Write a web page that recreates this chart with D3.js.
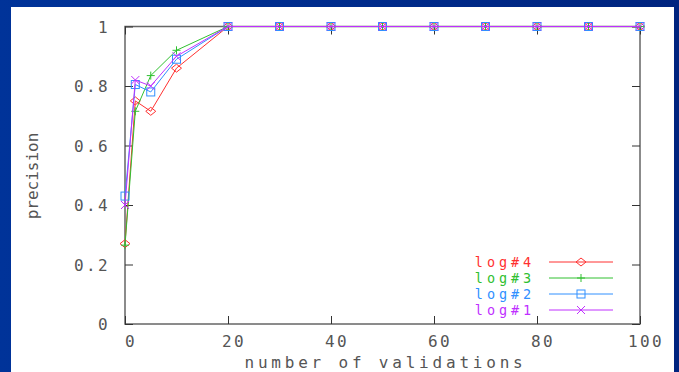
<!DOCTYPE html>
<html>
<head>
<meta charset="utf-8">
<script src="https://cdn.jsdelivr.net/npm/d3@7"></script>
<style>
  html, body { margin: 0; padding: 0; }
  body { width: 679px; height: 372px; overflow: hidden; }
  text { font-family: "DejaVu Sans Mono", monospace; fill: #555; }
</style>
</head>
<body>
<div id="chart"></div>
<script>
// data
const validations = [0, 2, 5, 10, 20, 30, 40, 50, 60, 70, 80, 90, 100];
const log4 = [0.27, 0.75, 0.715, 0.86, 1, 1, 1, 1, 1, 1, 1, 1, 1];
const log3 = [0.265, 0.715, 0.835, 0.92, 1, 1, 1, 1, 1, 1, 1, 1, 1];
const log2 = [0.43, 0.805, 0.78, 0.89, 1, 1, 1, 1, 1, 1, 1, 1, 1];
const log1 = [0.40, 0.82, 0.80, 0.90, 1, 1, 1, 1, 1, 1, 1, 1, 1];
const seriesNames = ["log#4", "log#3", "log#2", "log#1"];
const xTicks = [0, 20, 40, 60, 80, 100];
const yTicks = [0, 0.2, 0.4, 0.6, 0.8, 1];

const W = 679, H = 372;
const margin = { top: 26.5, right: 39, bottom: 48, left: 125 };

const series = [
  { name: seriesNames[0], values: log4, color: "#ff3030", marker: "diamond" },
  { name: seriesNames[1], values: log3, color: "#30c030", marker: "plus" },
  { name: seriesNames[2], values: log2, color: "#3090ff", marker: "square" },
  { name: seriesNames[3], values: log1, color: "#c030ff", marker: "cross" }
];

const svg = d3.select("#chart").append("svg")
  .attr("width", W)
  .attr("height", H);

// blue slide background + white panel
const grad = svg.append("defs").append("linearGradient")
  .attr("id", "bg").attr("x1", 0).attr("x2", 1).attr("y1", 0).attr("y2", 0);
grad.append("stop").attr("offset", "0%").attr("stop-color", "#003399");
grad.append("stop").attr("offset", "100%").attr("stop-color", "#00247f");
svg.append("rect").attr("width", W).attr("height", H).attr("fill", "url(#bg)");
svg.append("rect").attr("x", 11).attr("y", 7).attr("width", 663).attr("height", H - 7).attr("fill", "#fff");

const x = d3.scaleLinear().domain([0, 100]).range([margin.left, W - margin.right]);
const y = d3.scaleLinear().domain([0, 1]).range([H - margin.bottom, margin.top]);

const g = svg.append("g");

// frame
g.append("rect")
  .attr("x", x(0)).attr("y", y(1))
  .attr("width", x(100) - x(0)).attr("height", y(0) - y(1))
  .attr("fill", "none").attr("stroke", "#666").attr("stroke-width", 1.5);

// ticks, gnuplot style: inward and mirrored
const tickLen = 8;
g.append("g").call(d3.axisBottom(x).tickValues(xTicks).tickSize(-tickLen).tickFormat(""))
  .attr("transform", `translate(0,${y(0)})`);
g.append("g").call(d3.axisTop(x).tickValues(xTicks).tickSize(-tickLen).tickFormat(""))
  .attr("transform", `translate(0,${y(1)})`);
g.append("g").call(d3.axisLeft(y).tickValues(yTicks).tickSize(-tickLen).tickFormat(""))
  .attr("transform", `translate(${x(0)},0)`);
g.append("g").call(d3.axisRight(y).tickValues(yTicks).tickSize(-tickLen).tickFormat(""))
  .attr("transform", `translate(${x(100)},0)`);
g.selectAll(".domain").remove();
g.selectAll(".tick line").attr("stroke", "#333");

// tick labels
g.selectAll(".xlab").data(xTicks).enter().append("text")
  .attr("x", d => x(d) + 6)
  .attr("y", y(0) + 23)
  .attr("text-anchor", "middle")
  .style("font-size", "16px").style("letter-spacing", "2.4px")
  .text(d => d);

g.selectAll(".ylab").data(yTicks).enter().append("text")
  .attr("x", x(0) - 15)
  .attr("y", d => y(d) + 6)
  .attr("text-anchor", "end")
  .style("font-size", "16px").style("letter-spacing", "2.4px")
  .text(d => d);

svg.append("text")
  .attr("x", (x(0) + x(100)) / 2 + 3)
  .attr("y", 368)
  .attr("text-anchor", "middle")
  .style("font-size", "16px").style("letter-spacing", "3.8px")
  .text("number of validations");

svg.append("text")
  .attr("transform", `translate(38,${176}) rotate(-90)`)
  .attr("text-anchor", "middle")
  .style("font-size", "16px").style("letter-spacing", "0px")
  .text("precision");

// markers
function drawMarker(sel, type, color) {
  const s = 4;
  if (type === "diamond") {
    sel.append("path").attr("d", `M0,${-s}L${s + 1},0L0,${s}L${-s - 1},0Z`)
      .attr("fill", "none").attr("stroke", color);
  } else if (type === "plus") {
    sel.append("path").attr("d", `M${-s},0H${s}M0,${-s}V${s}`)
      .attr("stroke", color);
  } else if (type === "square") {
    sel.append("rect").attr("x", -s).attr("y", -s).attr("width", 2 * s).attr("height", 2 * s)
      .attr("fill", "none").attr("stroke", color);
  } else {
    sel.append("path").attr("d", `M${-s},${-s}L${s},${s}M${-s},${s}L${s},${-s}`)
      .attr("stroke", color);
  }
}

const line = d3.line().x(d => x(d[0])).y(d => y(d[1]));

series.forEach(sr => {
  const pts = validations.map((v, i) => [v, sr.values[i]]);
  g.append("path")
    .datum(pts)
    .attr("fill", "none")
    .attr("stroke", sr.color)
    .attr("stroke-width", 1)
    .attr("d", line);
  pts.forEach(p => {
    const m = g.append("g").attr("transform", `translate(${x(p[0])},${y(p[1])})`);
    drawMarker(m, sr.marker, sr.color);
  });
});

// legend
const legend = g.append("g");
series.forEach((sr, i) => {
  const ly = 262 + i * 16;
  legend.append("text")
    .attr("x", 535).attr("y", ly + 5)
    .attr("text-anchor", "end")
    .style("font-size", "13.5px").style("letter-spacing", "3.9px")
    .style("fill", sr.color)
    .text(sr.name);
  legend.append("line")
    .attr("x1", 549).attr("x2", 613).attr("y1", ly).attr("y2", ly)
    .attr("stroke", sr.color);
  const m = legend.append("g").attr("transform", `translate(581,${ly})`);
  drawMarker(m, sr.marker, sr.color);
});
</script>
</body>
</html>
